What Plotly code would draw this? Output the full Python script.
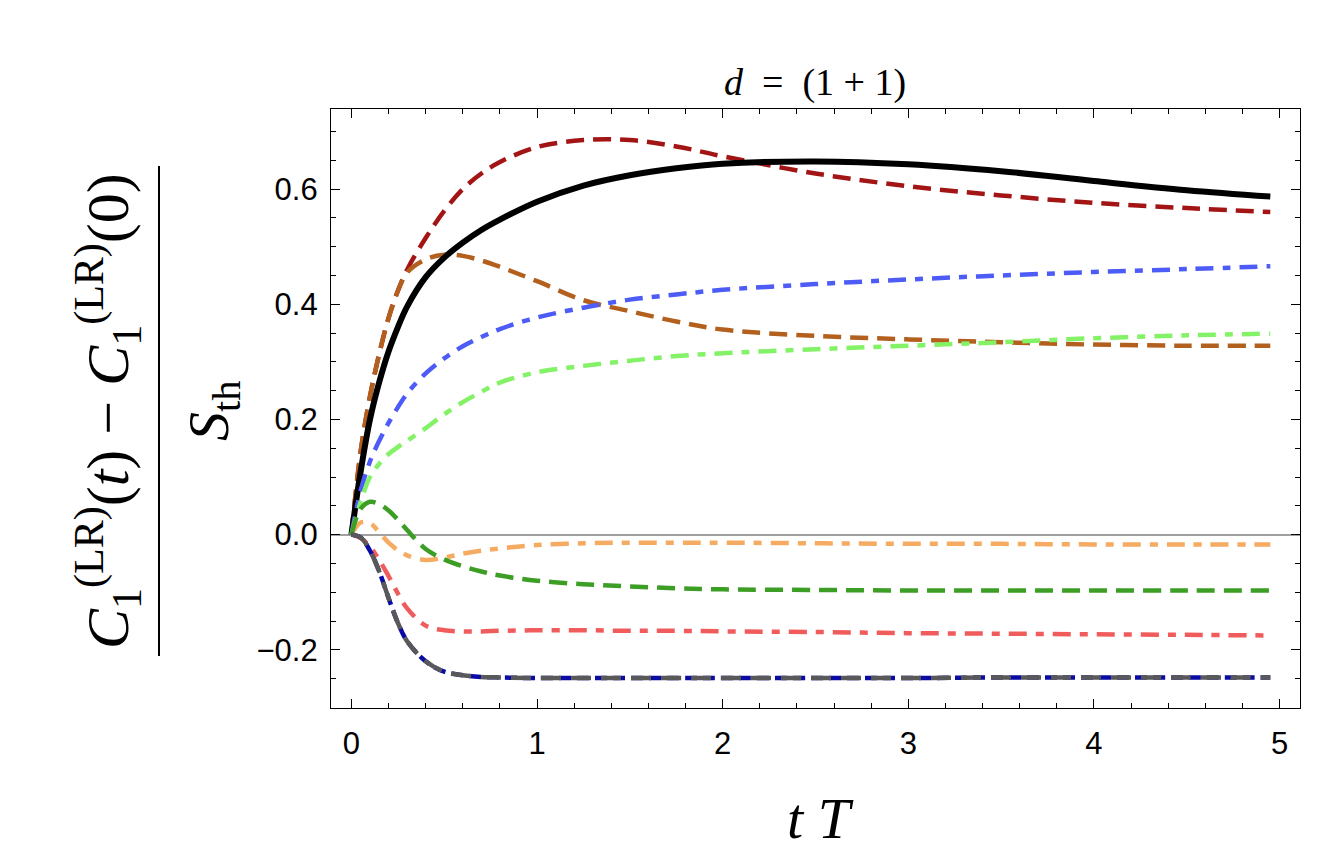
import plotly.graph_objects as go

# time axis (t T) shared by every curve
t_vals = [0, 0.05, 0.1, 0.15, 0.2, 0.25, 0.3, 0.4, 0.5, 0.6, 0.7, 0.8, 1.0,
          1.25, 1.5, 1.75, 2.0, 2.5, 3.0, 3.5, 4.0, 4.5, 4.95]

black_solid = [0, 0.11, 0.2, 0.265, 0.318, 0.36, 0.396, 0.447, 0.481, 0.507, 0.529, 0.547, 0.578,
               0.606, 0.624, 0.636, 0.644, 0.648, 0.643, 0.631, 0.614, 0.598, 0.587]
darkred_dash = [0, 0.145, 0.24, 0.314, 0.376, 0.423, 0.46, 0.515, 0.562, 0.600, 0.627, 0.647, 0.673,
                0.685, 0.685, 0.674, 0.657, 0.627, 0.605, 0.589, 0.576, 0.567, 0.560]
brown_dash = [0, 0.145, 0.24, 0.314, 0.376, 0.423, 0.455, 0.478, 0.486, 0.484, 0.476, 0.465, 0.44,
              0.407, 0.388, 0.37, 0.356, 0.345, 0.339, 0.334, 0.330, 0.328, 0.328]
blue_dashdot = [0, 0.077, 0.127, 0.163, 0.194, 0.221, 0.245, 0.28, 0.306, 0.327, 0.343, 0.357, 0.377,
                0.394, 0.408, 0.417, 0.425, 0.435, 0.443, 0.45, 0.456, 0.461, 0.466]
lime_dashdot = [0, 0.057, 0.1, 0.123, 0.14, 0.152, 0.163, 0.185, 0.209, 0.23, 0.248, 0.264, 0.282,
                0.293, 0.302, 0.31, 0.315, 0.322, 0.328, 0.334, 0.341, 0.346, 0.349]
orange_dashdot = [0, 0.021, 0.02, 0.004, -0.014, -0.027, -0.036, -0.044, -0.04, -0.033, -0.028, -0.024, -0.018,
                  -0.015, -0.014, -0.014, -0.014, -0.015, -0.016, -0.016, -0.017, -0.017, -0.017]
green_dash = [0, 0.045, 0.057, 0.053, 0.042, 0.026, 0.008, -0.025, -0.043, -0.055, -0.064, -0.071, -0.08,
              -0.086, -0.09, -0.093, -0.095, -0.096, -0.097, -0.097, -0.097, -0.097, -0.097]
red_dashdot = [0, -0.006, -0.021, -0.044, -0.072, -0.102, -0.128, -0.158, -0.166, -0.168, -0.168, -0.167, -0.166,
               -0.166, -0.167, -0.167, -0.168, -0.169, -0.171, -0.172, -0.173, -0.174, -0.175]
navy_dash = [0, -0.005, -0.028, -0.064, -0.11, -0.153, -0.185, -0.22, -0.238, -0.244, -0.247, -0.248, -0.249,
             -0.249, -0.249, -0.249, -0.249, -0.249, -0.249, -0.248, -0.248, -0.248, -0.248]
gray_dash = [0, -0.005, -0.028, -0.064, -0.11, -0.153, -0.185, -0.22, -0.238, -0.244, -0.247, -0.248, -0.249,
             -0.249, -0.249, -0.249, -0.249, -0.249, -0.249, -0.248, -0.248, -0.248, -0.248]

DASH = "18px,9px"
DASHDOT = "18px,9px,8px,9px"

curves = [
    (darkred_dash, "#a31414", DASH, 4.5),
    (brown_dash, "#b3601e", DASH, 4.5),
    (black_solid, "black", "solid", 6),
    (blue_dashdot, "#4d5cf7", DASHDOT, 4.5),
    (lime_dashdot, "#84f266", DASHDOT, 4.5),
    (orange_dashdot, "#f5ab62", DASHDOT, 4.5),
    (green_dash, "#3d9e26", DASH, 4.5),
    (red_dashdot, "#f05c5c", DASHDOT, 4.5),
    (navy_dash, "#0a0aa5", "12px,6px", 4.5),
    (gray_dash, "#595959", "20px,10px", 4.5),
]

fig = go.Figure()
for values, color, dash, width in curves:
    fig.add_trace(
        go.Scatter(
            x=t_vals,
            y=values,
            mode="lines",
            line={"color": color, "dash": dash, "width": width, "shape": "spline", "smoothing": 1},
            hoverinfo="skip",
            showlegend=False,
        )
    )

# page has an 8px body margin; plot area in window pixels: x 331..1300, y 109..708
OFF = 8
W, H = 1338 - 2 * OFF, 862 - 2 * OFF
L, R, T, B = 331, 1300, 109, 708


def px(x):
    return (x - L) / (R - L)


def py(y):
    return (B - y) / (B - T)


serif = "Liberation Serif"
sp = "&nbsp;"


def label(text, x, y, size, angle=0):
    fig.add_annotation(
        text=text, x=px(x), y=py(y), xref="paper", yref="paper",
        xanchor="center", yanchor="middle", textangle=angle, showarrow=False,
        font={"family": serif, "size": size, "color": "black"},
    )


label(f"<i>d</i>{sp*2}={sp*2}(1{sp}+{sp}1)", 815, 83, 38)
label(f"<i>t</i>{sp}<i>T</i>", 820, 818, 58)
# y label as a fraction
label("<i>C</i><sub>1</sub><sup>(LR)</sup>(<i>t</i>) − <i>C</i><sub>1</sub><sup>(LR)</sup>(0)",
      108, 411, 60, -90)
label("<i>S</i><sub>th</sub>", 212, 411, 58, -90)
fig.add_shape(
    type="line", xref="paper", yref="paper",
    x0=px(159), x1=px(159), y0=py(166), y1=py(656),
    line={"color": "black", "width": 2},
)

fig.update_layout(
    width=W,
    height=H,
    margin={"l": L - OFF, "r": W - (R - OFF), "t": T - OFF, "b": H - (B - OFF), "pad": 0},
    plot_bgcolor="white",
    paper_bgcolor="white",
    font={"family": "Liberation Sans", "size": 31, "color": "black"},
)
fig.update_xaxes(
    range=[-0.11, 5.11], dtick=1, tick0=0, ticks="inside", ticklen=9, tickwidth=1.2,
    tickcolor="black", showline=True, linecolor="black", linewidth=1.3, mirror="allticks",
    showgrid=False, zeroline=False, ticklabelstandoff=8,
    minor={"dtick": 0.2, "tick0": 0, "ticks": "inside", "ticklen": 5, "tickcolor": "black",
           "tickwidth": 1, "showgrid": False},
)
fig.update_yaxes(
    range=[-0.301, 0.739], dtick=0.2, tick0=0, ticks="inside", ticklen=9, tickwidth=1.2,
    tickcolor="black", showline=True, linecolor="black", linewidth=1.3, mirror="allticks",
    showgrid=False, zeroline=True, zerolinecolor="#a0a0a0", zerolinewidth=1.5,
    tickformat=".1f", ticklabelstandoff=6,
    minor={"dtick": 0.05, "tick0": 0, "ticks": "inside", "ticklen": 5, "tickcolor": "black",
           "tickwidth": 1, "showgrid": False},
)

fig.write_html("out.html")
